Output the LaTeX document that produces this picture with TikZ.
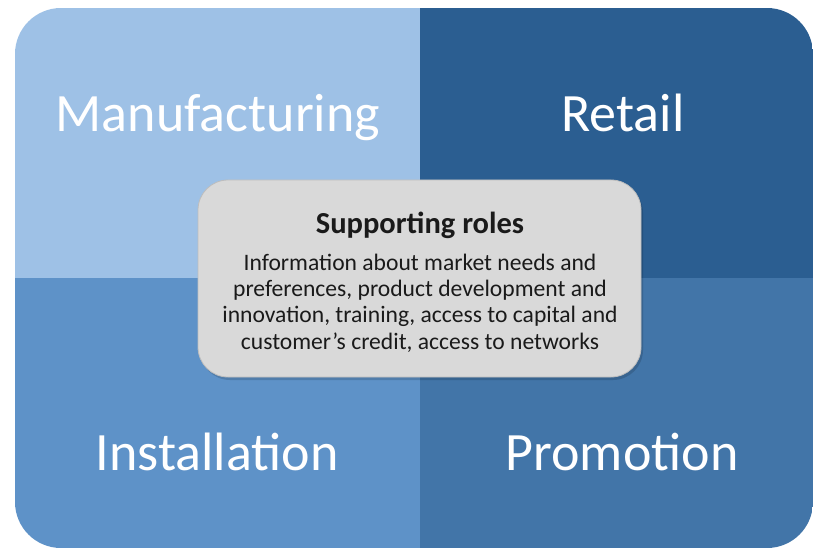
\documentclass[tikz,border=0pt]{standalone}
\usepackage{fontspec}
\setmainfont{Carlito}
\definecolor{qmanu}{HTML}{9EC1E6}
\definecolor{qretail}{HTML}{2B5E91}
\definecolor{qinst}{HTML}{5E92C8}
\definecolor{qpromo}{HTML}{4275A8}
\definecolor{boxfill}{HTML}{D9D9D9}
\definecolor{boxline}{HTML}{BDBDBD}
\definecolor{boxtext}{HTML}{1A1A1A}
\tikzset{
  quadlabel/.style={text=white, font=\fontsize{54}{60}\selectfont, inner sep=0pt, anchor=base},
  centerbox/.style={fill=boxfill, draw=boxline, line width=0.8pt, rounded corners=30pt},
}
\begin{document}
\begin{tikzpicture}[x=1pt,y=-1pt]
\useasboundingbox (0,0) rectangle (813,548);
\fill[white] (0,0) rectangle (813,548);
\begin{scope}
  \clip[rounded corners=46pt] (15,8) rectangle (813,548);
  \fill[qmanu] (15,8) rectangle (420,278);
  \fill[qretail] (420,8) rectangle (813,278);
  \fill[qinst] (15,278) rectangle (420,548);
  \fill[qpromo] (420,278) rectangle (813,548);
\end{scope}
\node[quadlabel] (manu) at (218,132) {Manufacturing};
\node[quadlabel] (retail) at (623,132) {Retail};
\node[quadlabel] (inst) at (217,470) {Installation};
\node[quadlabel] (promo) at (622,470) {Promotion};
\fill[black, opacity=0.14, rounded corners=30pt] (200,183) rectangle (643,380);
\draw[centerbox] (198,180) rectangle (641,377);
\node[text=boxtext, font=\bfseries\fontsize{30.5}{34}\selectfont, anchor=base, inner sep=0pt] (title) at (420,233) {Supporting roles};
\node[text=boxtext, font=\fontsize{23.6}{26.2}\selectfont, align=center, anchor=north, inner sep=0pt] (body) at (420,254)
  {Information about market needs and\\preferences, product development and\\innovation, training, access to capital and\\customer’s credit, access to networks};
\end{tikzpicture}
\end{document}
